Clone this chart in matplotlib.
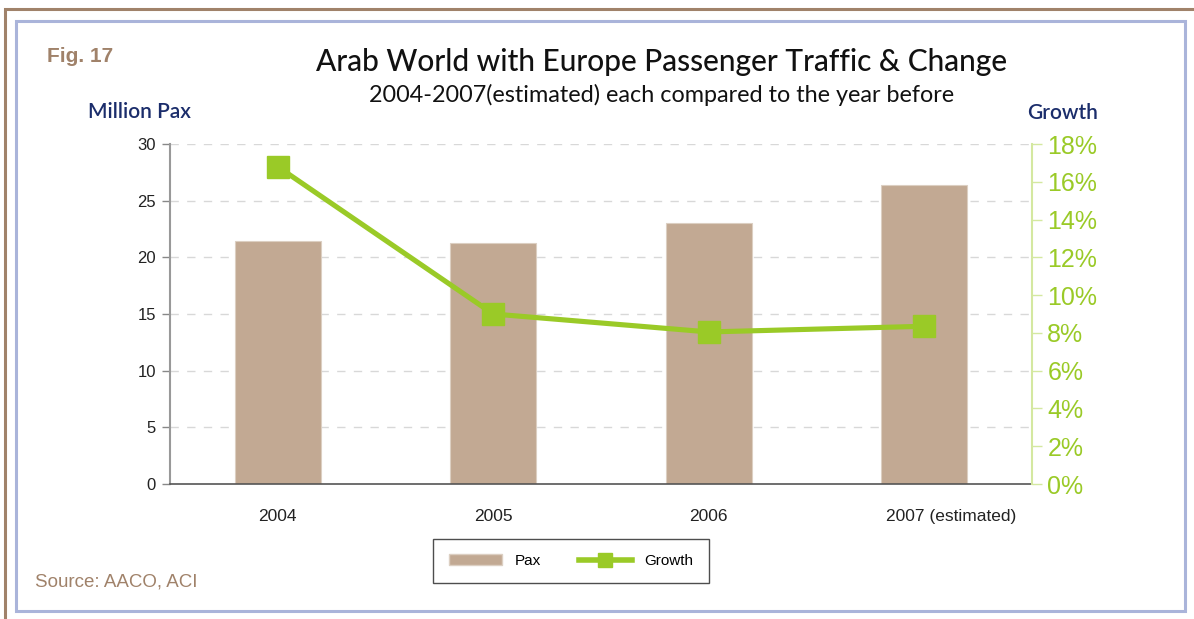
import matplotlib
matplotlib.use("Agg")
import matplotlib.pyplot as plt
from matplotlib.patches import Rectangle
from matplotlib.lines import Line2D
from matplotlib.ticker import FuncFormatter
from matplotlib.transforms import ScaledTranslation

years = ["2004", "2005", "2006", "2007 (estimated)"]
pax_million = [21.4, 21.3, 23.0, 26.4]
growth_pct = [16.8, 9.0, 8.05, 8.35]
left_ticks = [0, 5, 10, 15, 20, 25, 30]
right_ticks = [0, 2, 4, 6, 8, 10, 12, 14, 16, 18]

plt.rcParams["font.family"] = ["Liberation Sans", "DejaVu Sans"]

BAR = "#C2A993"
GREEN = "#9ACA27"
NAVY = "#1B2D6B"
BROWN = "#A0826A"
HEAD = ["Lato", "DejaVu Sans"]

fig = plt.figure(figsize=(11.94, 6.19), dpi=100)
W, H = 1194, 619

def fx(px):
    return px / W

def fy(py):
    return 1 - py / H

# frames
fig.add_artist(Rectangle((fx(5), fy(640)), fx(1300), fy(9) - fy(640), transform=fig.transFigure,
                         fill=False, edgecolor="#A0826A", lw=2.2))
fig.add_artist(Rectangle((fx(16), fy(611)), fx(1185 - 16), fy(21) - fy(611), transform=fig.transFigure,
                         fill=False, edgecolor="#AAB4DA", lw=2.2))

ax = fig.add_axes([fx(170), fy(484), fx(1032 - 170), fy(144) - fy(484)])
x = list(range(len(years)))
ax.bar(x, pax_million, width=0.40, color=BAR, edgecolor="#DCCFC2", linewidth=0.8, zorder=2)
ax.set_xlim(-0.5, len(years) - 0.5)
ax.set_ylim(0, 30)
ax.set_yticks(left_ticks)
ax.set_xticks(x)
ax.set_xticklabels(years)
ax.tick_params(axis="y", labelsize=12, colors="#888888", labelcolor="#222222",
               length=6, width=1, direction="out", pad=4)
ax.tick_params(axis="x", length=0, labelsize=12.5, labelcolor="#222222", pad=18)
# the long last category label sits a little to the right of its bar
last = ax.get_xticklabels()[-1]
last.set_transform(last.get_transform() + ScaledTranslation(0.27, 0, fig.dpi_scale_trans))
for y in left_ticks[1:]:
    ax.axhline(y, color="#D8D8D8", lw=1, ls=(0, (6, 6)), zorder=1)
ax.spines["top"].set_visible(False)
ax.spines["right"].set_visible(False)
ax.spines["left"].set_color("#999999")
ax.spines["left"].set_linewidth(1.5)
ax.spines["bottom"].set_color("#555555")
ax.spines["bottom"].set_linewidth(1.2)

ax2 = ax.twinx()
ax2.plot(x, growth_pct, color=GREEN, lw=3.7, marker="s", markersize=15.5, zorder=5)
ax2.set_ylim(0, 18)
ax2.set_yticks(right_ticks)
ax2.yaxis.set_major_formatter(FuncFormatter(lambda v, p: f"{int(v)}%"))
ax2.tick_params(axis="y", labelsize=18, colors="#D4E8A0", labelcolor=GREEN, length=7, width=1, pad=4)
for s in ["top", "left", "bottom"]:
    ax2.spines[s].set_visible(False)
ax2.spines["right"].set_color("#D4E8A0")
ax2.spines["right"].set_linewidth(1.5)

# texts
fig.text(fx(47), fy(56), "Fig. 17", fontsize=15, fontweight="bold", color=BROWN, va="center")
fig.text(fx(662), fy(62), "Arab World with Europe Passenger Traffic & Change", fontsize=21.5,
         family=HEAD, fontweight="medium", color="#111111", ha="center", va="center")
fig.text(fx(662), fy(95), "2004-2007(estimated) each compared to the year before", fontsize=16.8,
         family=HEAD, color="#111111", ha="center", va="center")
fig.text(fx(88), fy(112), "Million Pax", fontsize=15, family=HEAD, fontweight="semibold",
         color=NAVY, ha="left", va="center")
fig.text(fx(1098), fy(113), "Growth", fontsize=15, family=HEAD, fontweight="semibold",
         color=NAVY, ha="right", va="center")
fig.text(fx(35), fy(582), "Source: AACO, ACI", fontsize=13.5, color=BROWN, ha="left", va="center")

handles = [Rectangle((0, 0), 1, 1, facecolor=BAR, edgecolor="#DCCFC2"),
           Line2D([], [], color=GREEN, lw=4, marker="s", markersize=10)]
leg = fig.legend(handles, ["Pax", "Growth"], loc="center", bbox_to_anchor=(fx(571), fy(561)),
                 ncol=2, frameon=True, fancybox=False, fontsize=11, handlelength=3.5,
                 columnspacing=2.5, borderpad=1.0, handletextpad=0.8)
leg.get_frame().set_edgecolor("#222222")
leg.get_frame().set_linewidth(1.0)

fig.savefig("out.png", dpi=100)
